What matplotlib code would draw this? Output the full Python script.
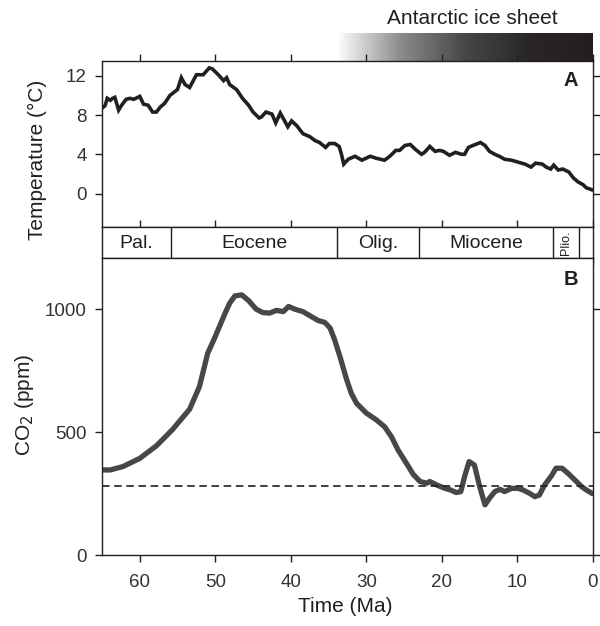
import numpy as np
import matplotlib
matplotlib.use('Agg')
import matplotlib.pyplot as plt
from matplotlib.colors import LinearSegmentedColormap

plt.rcParams['font.family'] = ['Liberation Sans', 'DejaVu Sans']

# temperature record (panel A)
temp_age = [65.0, 64.6, 64.3, 63.9, 63.6, 63.3, 62.8, 62.4, 61.8, 61.3, 60.8, 60.0,
            59.5, 58.9, 58.3, 57.8, 57.3, 56.7, 56.0, 55.0, 54.5, 54.0, 53.4, 52.5,
            51.6, 50.8, 50.4, 49.6, 48.9, 48.5, 48.1, 47.2, 46.4, 45.6, 45.0, 44.2,
            43.9, 43.3, 42.5, 42.0, 41.4, 40.9, 40.4, 39.9, 39.2, 38.4, 37.5, 36.8,
            36.2, 35.4, 34.9, 34.2, 33.6, 33.3, 33.0, 32.4, 31.5, 30.6, 29.5, 28.7,
            27.6, 26.9, 26.1, 25.6, 24.9, 24.2, 23.5, 22.7, 22.3, 21.6, 20.9, 20.3,
            19.8, 19.0, 18.2, 17.4, 17.0, 16.5, 15.9, 14.9, 14.3, 13.7, 13.0, 12.4,
            11.7, 10.8, 9.9, 9.0, 8.2, 7.6, 6.7, 6.2, 5.6, 5.2, 4.6, 4.0, 3.2, 2.6,
            2.0, 1.3, 0.9, 0.2]
temp = [8.7, 8.95, 9.7, 9.5, 9.7, 9.8, 8.5, 9.0, 9.6, 9.7, 9.6, 9.9,
        9.1, 9.0, 8.3, 8.3, 8.8, 9.2, 10.0, 10.6, 11.8, 11.1, 10.8, 12.1,
        12.1, 12.8, 12.7, 12.1, 11.5, 11.8, 11.1, 10.6, 9.7, 9.0, 8.3, 7.7,
        7.8, 8.3, 8.1, 7.2, 8.2, 7.5, 6.8, 7.4, 6.9, 6.1, 5.8, 5.4,
        5.2, 4.7, 5.1, 5.1, 4.8, 4.0, 3.0, 3.5, 3.8, 3.4, 3.8, 3.6,
        3.4, 3.8, 4.4, 4.4, 4.9, 5.0, 4.5, 4.0, 4.2, 4.8, 4.3, 4.4,
        4.3, 3.9, 4.2, 4.0, 4.0, 4.7, 4.9, 5.2, 4.9, 4.3, 4.0, 3.8,
        3.5, 3.4, 3.2, 3.0, 2.7, 3.1, 3.0, 2.7, 2.5, 2.9, 2.4, 2.5, 2.2, 1.6,
        1.2, 0.9, 0.6, 0.4]

# CO2 record (panel B)
co2_age = [65.0, 63.9, 62.2, 60.0, 57.8, 55.7, 53.4, 52.1, 51.0, 50.1, 48.7, 48.1,
           47.4, 46.5, 45.6, 44.6, 43.7, 42.8, 41.9, 41.0, 40.3, 39.5, 38.4, 37.3,
           36.4, 35.5, 34.8, 34.2, 33.5, 32.6, 32.0, 31.3, 30.0, 28.7, 27.6, 26.7,
           25.8, 24.7, 23.8, 22.9, 22.0, 21.6, 20.7, 19.6, 18.9, 18.1, 17.5, 17.0,
           16.4, 15.7, 15.0, 14.3, 13.7, 13.0, 12.3, 11.7, 10.8, 9.9, 9.3, 8.4,
           7.7, 7.1, 6.4, 5.5, 4.9, 4.1, 3.3, 2.4, 1.5, 0.9, 0.1]
co2 = [346, 346, 360, 393, 444, 509, 593, 685, 821, 882, 984, 1024,
       1054, 1058, 1035, 1000, 986, 984, 995, 990, 1011, 1000, 990, 970,
       954, 946, 923, 875, 807, 712, 658, 617, 577, 550, 522, 482,
       427, 373, 328, 299, 292, 299, 285, 271, 265, 254, 258, 319,
       380, 366, 278, 204, 231, 258, 267, 258, 271, 271, 265, 251,
       237, 244, 285, 322, 353, 353, 332, 305, 278, 265, 250]
co2_preind = 280

epoch_bounds = [65.0, 55.8, 33.9, 23.0, 5.3, 1.8, 0.0]
epoch_names = ['Pal.', 'Eocene', 'Olig.', 'Miocene', 'Plio.', '']

ink = '#231f20'
W, H = 600, 626


def fr(x0, y0, x1, y1):
    # pixel box -> figure fraction
    return [x0 / W, 1 - y1 / H, (x1 - x0) / W, (y1 - y0) / H]


fig = plt.figure(figsize=(6.0, 6.26), dpi=100)

# ice sheet gradient bar
axg = fig.add_axes(fr(337, 33, 593, 61))
cmap = LinearSegmentedColormap.from_list('ice', ['#ffffff', '#8a8a8a', '#474747', '#2a2627', ink],
                                         N=256)
axg.imshow(np.linspace(0, 1, 256)[None, :], cmap=cmap, aspect='auto')
axg.axis('off')
fig.text(472 / W, 1 - 19 / H, 'Antarctic ice sheet', ha='center', va='center',
         fontsize=15, color=ink)

axA = fig.add_axes(fr(102, 61, 593, 227))
axS = fig.add_axes(fr(102, 227, 593, 258))
axB = fig.add_axes(fr(102, 258, 593, 555))

for ax in (axA, axS, axB):
    ax.set_xlim(65, 0)
    ax.set_xticks([60, 50, 40, 30, 20, 10, 0])
    for s in ax.spines.values():
        s.set_linewidth(1.0)
        s.set_color(ink)
    ax.tick_params(direction='out', length=5, width=1.0, color=ink,
                   labelsize=13.5, labelcolor='#333333')

axA.plot(temp_age, temp, color=ink, lw=2.6, solid_joinstyle='miter')
axA.set_ylim(-3.4, 13.5)
axA.set_yticks([0, 4, 8, 12])
axA.tick_params(axis='x', bottom=False, top=True, labelbottom=False)
axA.tick_params(axis='y', left=True, right=True, labelright=False, pad=6)
axA.text(0.954, 0.88, 'A', transform=axA.transAxes, fontsize=14.5, fontweight='bold',
         color=ink, ha='center', va='center')

axS.set_ylim(0, 1)
axS.set_yticks([])
axS.tick_params(axis='x', bottom=True, top=True, labelbottom=False)
for b in epoch_bounds[1:-1]:
    axS.axvline(b, color=ink, lw=1.0)
for i, name in enumerate(epoch_names):
    mid = (epoch_bounds[i] + epoch_bounds[i + 1]) / 2
    if name == 'Plio.':
        axS.text(mid, 0.5, name, ha='center', va='center', rotation=90,
                 fontsize=9, color=ink)
    elif name:
        axS.text(mid, 0.48, name, ha='center', va='center', fontsize=14, color=ink)

axB.plot(co2_age, co2, color='#474747', lw=3.8, solid_capstyle='round',
         solid_joinstyle='round')
axB.axhline(co2_preind, color=ink, lw=1.2, dashes=(4.5, 2.8))
axB.set_ylim(0, 1208)
axB.set_yticks([0, 500, 1000])
axB.tick_params(axis='x', bottom=True, top=False, pad=9)
axB.tick_params(axis='y', left=True, right=True, labelright=False, pad=6)
axB.text(0.954, 0.926, 'B', transform=axB.transAxes, fontsize=14.5, fontweight='bold',
         color=ink, ha='center', va='center')

fig.text(37.5 / W, 1 - 160 / H, 'Temperature (°C)', rotation=90, ha='center', va='center',
         fontsize=15, color=ink)
fig.text(25 / W, 1 - 405 / H, 'CO$_2$ (ppm)', rotation=90, ha='center', va='center',
         fontsize=15, color=ink)
fig.text(345 / W, 1 - 607 / H, 'Time (Ma)', ha='center', va='center', fontsize=15, color=ink)

fig.savefig('out.png', dpi=100)
